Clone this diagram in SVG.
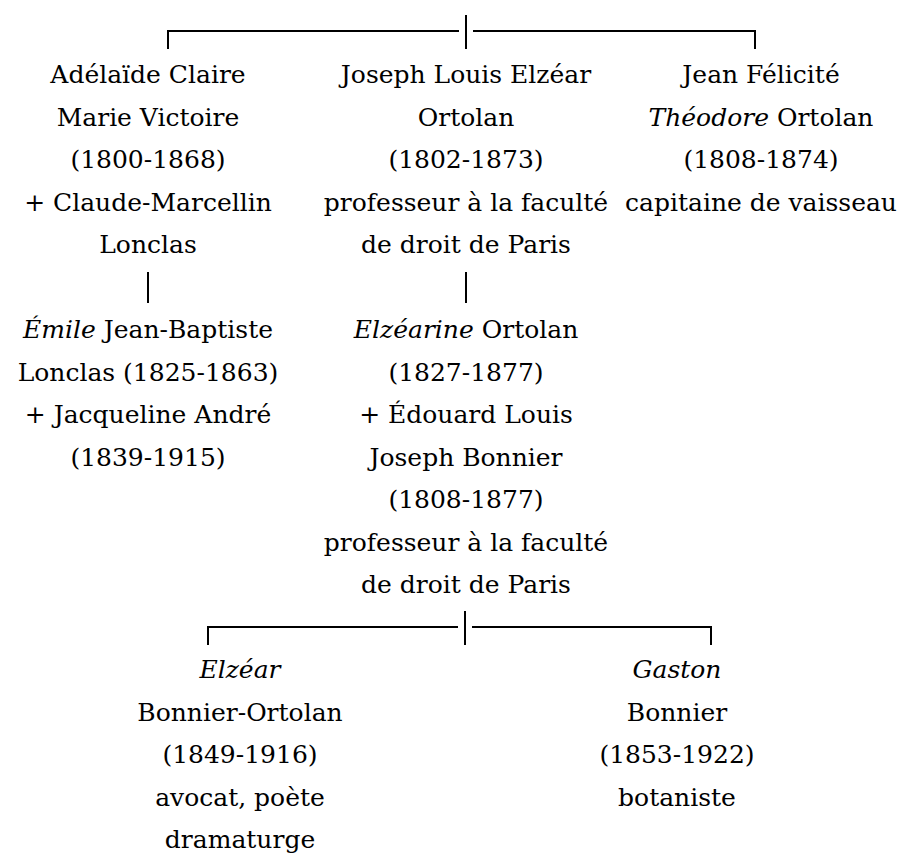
<svg xmlns="http://www.w3.org/2000/svg" width="908" height="854" viewBox="0 0 908 854">
<style>
text{font-family:"DejaVu Serif","Liberation Serif",serif;font-size:25px;fill:#000000;text-anchor:middle}
.i{font-style:italic}
.ln{stroke:#000000;stroke-width:2;fill:none}
</style>
<rect width="908" height="854" fill="#ffffff"/>
<g id="connectors">
<path class="ln" d="M168 49V31H459M473 31H755V49M466 15V49"/>
<path class="ln" d="M148 272V303M466 272V303"/>
<path class="ln" d="M208 645V627H458M472 627H711V645M465 611V645"/>
</g>
<g id="adelaide">
<text x="148" y="83">Adélaïde Claire</text>
<text x="148" y="125.5">Marie Victoire</text>
<text x="148" y="168">(1800-1868)</text>
<text x="148" y="210.5">+ Claude-Marcellin</text>
<text x="148" y="253">Lonclas</text>
</g>
<g id="joseph">
<text x="466" y="83">Joseph Louis Elzéar</text>
<text x="466" y="125.5">Ortolan</text>
<text x="466" y="168">(1802-1873)</text>
<text x="466" y="210.5">professeur à la faculté</text>
<text x="466" y="253">de droit de Paris</text>
</g>
<g id="theodore">
<text x="761" y="83">Jean Félicité</text>
<text x="761" y="125.5"><tspan class="i">Théodore</tspan> Ortolan</text>
<text x="761" y="168">(1808-1874)</text>
<text x="761" y="210.5">capitaine de vaisseau</text>
</g>
<g id="emile">
<text x="148" y="338"><tspan class="i">Émile</tspan> Jean-Baptiste</text>
<text x="148" y="380.5">Lonclas (1825-1863)</text>
<text x="148" y="423">+ Jacqueline André</text>
<text x="148" y="465.5">(1839-1915)</text>
</g>
<g id="elzearine">
<text x="466" y="338"><tspan class="i">Elzéarine</tspan> Ortolan</text>
<text x="466" y="380.5">(1827-1877)</text>
<text x="466" y="423">+ Édouard Louis</text>
<text x="466" y="465.5">Joseph Bonnier</text>
<text x="466" y="508">(1808-1877)</text>
<text x="466" y="550.5">professeur à la faculté</text>
<text x="466" y="593">de droit de Paris</text>
</g>
<g id="elzear">
<text x="240" y="678" class="i">Elzéar</text>
<text x="240" y="720.5">Bonnier-Ortolan</text>
<text x="240" y="763">(1849-1916)</text>
<text x="240" y="805.5">avocat, poète</text>
<text x="240" y="848">dramaturge</text>
</g>
<g id="gaston">
<text x="677" y="678" class="i">Gaston</text>
<text x="677" y="720.5">Bonnier</text>
<text x="677" y="763">(1853-1922)</text>
<text x="677" y="805.5">botaniste</text>
</g>
</svg>
